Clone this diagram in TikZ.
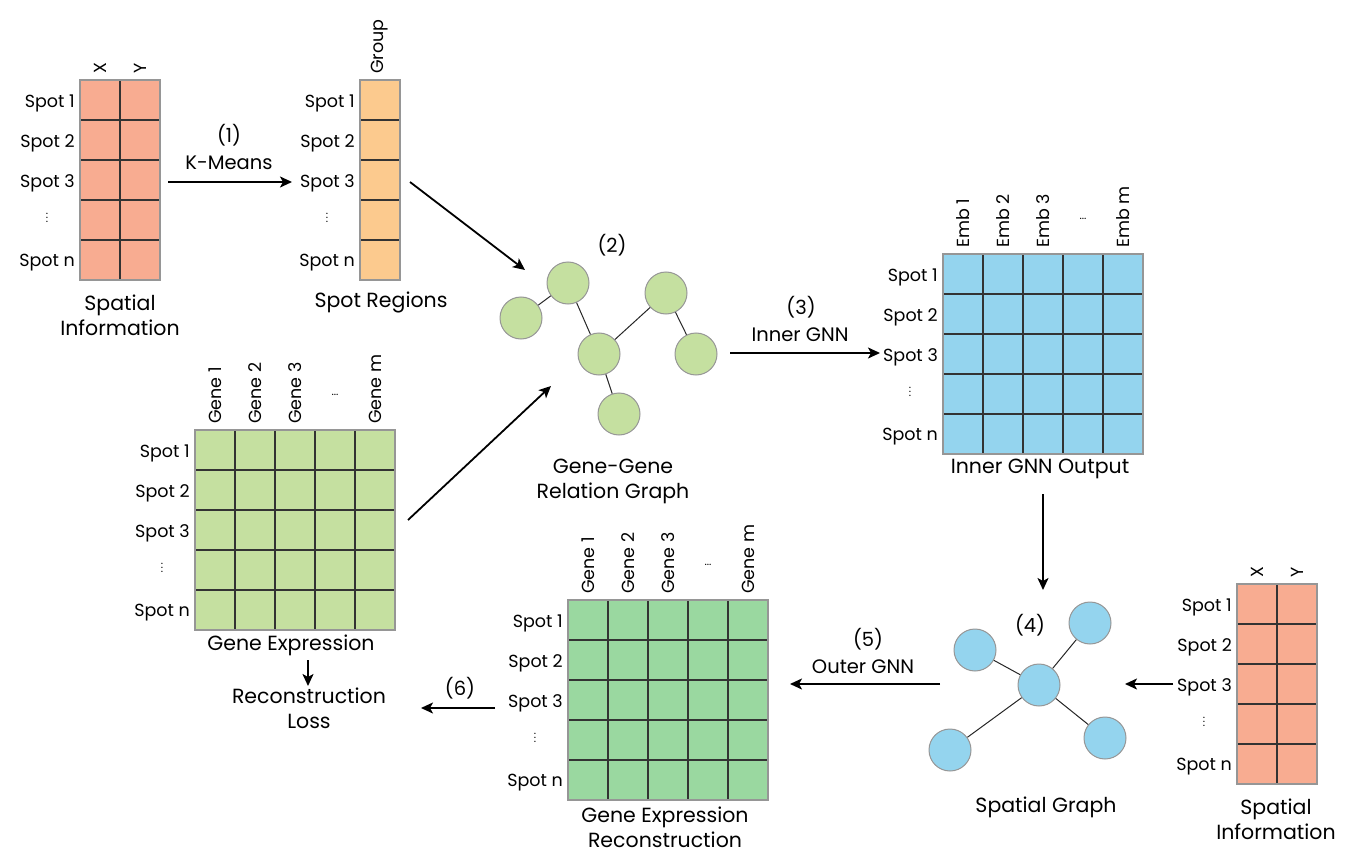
\documentclass[tikz,border=0pt]{standalone}
\usepackage{fontspec}
\setmainfont{Poppins}
\usetikzlibrary{arrows.meta, positioning}
\definecolor{spatialsalmon}{RGB}{248,172,145}
\definecolor{regionorange}{RGB}{252,202,142}
\definecolor{genegreen}{RGB}{197,224,160}
\definecolor{embblue}{RGB}{148,212,238}
\definecolor{recongreen}{RGB}{154,216,160}
\definecolor{rimgray}{RGB}{150,150,150}

\tikzset{
  rowlab/.style={font=\fontsize{17.5}{20}\selectfont, anchor=east, inner sep=0pt},
  collab/.style={font=\fontsize{17.5}{20}\selectfont, rotate=90, anchor=west, inner sep=0pt},
  dotlab/.style={font=\fontsize{11}{11}\selectfont, inner sep=0pt},
  caption/.style={font=\fontsize{20.5}{25}\selectfont, align=center, inner sep=0pt},
  steplab/.style={font=\fontsize{19.5}{22}\selectfont, inner sep=0pt},
  flow/.style={-{Stealth[length=12pt, width=11pt, inset=3pt]}, line width=1.8pt},
  gnode/.style={circle, draw=rimgray, line width=1pt, fill=genegreen, minimum size=42pt, inner sep=0pt},
  snode/.style={gnode, fill=embblue},
  link/.style={line width=1pt, black!85},
  gridline/.style={line width=1.3pt, black!80},
  rim/.style={line width=1.5pt, rimgray},
}

% table of cells: left, top, columns, rows, fill
\newcommand{\cellgrid}[5]{%
  \fill[#5] (#1,#2) rectangle ++(40*#3,40*#4);
  \foreach \c in {1,...,#3} \draw[gridline] (#1+40*\c,#2) -- ++(0,40*#4);
  \foreach \r in {1,...,#4} \draw[gridline] (#1,#2+40*\r) -- ++(40*#3,0);
  \draw[rim] (#1,#2) rectangle ++(40*#3,40*#4);
}

% row names: right edge, table top, name prefix
\newcommand{\spotrows}[3]{%
  \node[rowlab] (#3s1) at (#1,#2+23) {Spot 1};
  \node[rowlab] (#3s2) at (#1,#2+63) {Spot 2};
  \node[rowlab] (#3s3) at (#1,#2+103) {Spot 3};
  \node[dotlab] (#3sd) at (#1-28,#2+135) {$\vdots$};
  \node[rowlab] (#3sn) at (#1,#2+183) {Spot n};
}

\begin{document}
\begin{tikzpicture}[x=1pt, y=-1pt]
\useasboundingbox (0,0) rectangle (1347,861);

% Spatial information (top left)
\cellgrid{80}{80}{2}{5}{spatialsalmon}
\node[collab] (sahx) at (100,74) {X};
\node[collab] (sahy) at (140,74) {Y};
\spotrows{75}{80}{sa}
\node[caption] (sacap) at (120,315) {Spatial\\Information};

% Spot regions
\cellgrid{360}{80}{1}{5}{regionorange}
\node[collab] (srhg) at (380,74) {Group};
\spotrows{355}{80}{sr}
\node[caption] (srcap) at (381,302) {Spot Regions};

% Gene expression
\cellgrid{195}{430}{5}{5}{genegreen}
\node[collab] (geh1) at (215,424) {Gene 1};
\node[collab] (geh2) at (255,424) {Gene 2};
\node[collab] (geh3) at (295,424) {Gene 3};
\node[dotlab] (gehd) at (335,395) {...};
\node[collab] (gehm) at (375,424) {Gene m};
\spotrows{190}{430}{ge}
\node[caption] (gecap) at (291,645) {Gene Expression};
\node[caption] (loss) at (309,708) {Reconstruction\\Loss};

% Gene-gene relation graph
\node[gnode] (g1) at (568,283) {};
\node[gnode] (g2) at (521,318) {};
\node[gnode] (g3) at (666,293) {};
\node[gnode] (g4) at (599,354) {};
\node[gnode] (g5) at (696,354) {};
\node[gnode] (g6) at (619,414) {};
\draw[link] (g2) -- (g1);
\draw[link] (g1) -- (g4);
\draw[link] (g4) -- (g3);
\draw[link] (g3) -- (g5);
\draw[link] (g4) -- (g6);
\node[steplab] (ggstep) at (612,245) {(2)};
\node[caption] (ggcap) at (613,481) {Gene-Gene\\Relation Graph};

% Inner GNN output
\cellgrid{943}{254}{5}{5}{embblue}
\node[collab] (ioh1) at (963,248) {Emb 1};
\node[collab] (ioh2) at (1003,248) {Emb 2};
\node[collab] (ioh3) at (1043,248) {Emb 3};
\node[dotlab] (iohd) at (1083,219) {...};
\node[collab] (iohm) at (1123,248) {Emb m};
\spotrows{938}{254}{io}
\node[caption] (iocap) at (1040,469) {Inner GNN Output};

% Spatial graph
\node[snode] (c0) at (1039,685) {};
\node[snode] (c1) at (975,650) {};
\node[snode] (c2) at (1090,623) {};
\node[snode] (c3) at (950,750) {};
\node[snode] (c4) at (1105,738) {};
\draw[link] (c0) -- (c1);
\draw[link] (c0) -- (c2);
\draw[link] (c0) -- (c3);
\draw[link] (c0) -- (c4);
\node[steplab] (spstep) at (1030,625) {(4)};
\node[caption] (spcap) at (1046,807) {Spatial Graph};

% Spatial information (bottom right)
\cellgrid{1237}{584}{2}{5}{spatialsalmon}
\node[collab] (sbhx) at (1257,578) {X};
\node[collab] (sbhy) at (1297,578) {Y};
\spotrows{1232}{584}{sb}
\node[caption] (sbcap) at (1276,819) {Spatial\\Information};

% Gene expression reconstruction
\cellgrid{568}{600}{5}{5}{recongreen}
\node[collab] (grh1) at (588,594) {Gene 1};
\node[collab] (grh2) at (628,594) {Gene 2};
\node[collab] (grh3) at (668,594) {Gene 3};
\node[dotlab] (grhd) at (708,565) {...};
\node[collab] (grhm) at (748,594) {Gene m};
\spotrows{563}{600}{gr}
\node[caption] (grcap) at (665,827) {Gene Expression\\Reconstruction};

% Arrow ends
\coordinate (k1a) at (168,182);  \coordinate (k1b) at (292,182);
\coordinate (sra) at (410,182);  \coordinate (srb) at (525,270);
\coordinate (gea) at (408,520);  \coordinate (geb) at (551,386);
\coordinate (in3a) at (730,353); \coordinate (in3b) at (880,353);
\coordinate (ioa) at (1043,494); \coordinate (iob) at (1043,590);
\coordinate (sba) at (1173,684); \coordinate (sbb) at (1125,684);
\coordinate (ou5a) at (940,684); \coordinate (ou5b) at (790,684);
\coordinate (r6a) at (495,708);  \coordinate (r6b) at (421,708);
\coordinate (lsa) at (308,660);  \coordinate (lsb) at (308,686);

% Arrows
\draw[flow] (k1a) -- (k1b);
\node[steplab] (k1n) at (229,135) {(1)};
\node[steplab] (k1t) at (229,163) {K-Means};
\draw[flow] (sra) -- (srb);
\draw[flow] (gea) -- (geb);
\draw[flow] (in3a) -- (in3b);
\node[steplab] (in3n) at (801,307) {(3)};
\node[steplab] (in3t) at (800,335) {Inner GNN};
\draw[flow] (ioa) -- (iob);
\draw[flow] (sba) -- (sbb);
\draw[flow] (ou5a) -- (ou5b);
\node[steplab] (ou5n) at (868,639) {(5)};
\node[steplab] (ou5t) at (863,667) {Outer GNN};
\draw[flow] (r6a) -- (r6b);
\node[steplab] (r6n) at (460,688) {(6)};
\draw[flow] (lsa) -- (lsb);
\end{tikzpicture}
\end{document}
